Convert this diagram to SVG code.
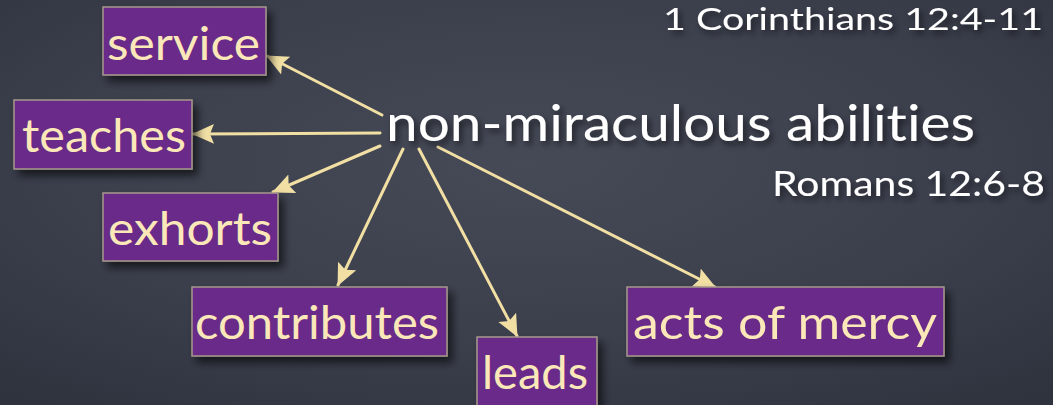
<svg xmlns="http://www.w3.org/2000/svg" width="1053" height="405" viewBox="0 0 1053 405">
<defs>
<radialGradient id="bg" cx="0.5" cy="0.4" r="0.75">
<stop offset="0" stop-color="#464a57"/>
<stop offset="0.6" stop-color="#3b3f4c"/>
<stop offset="1" stop-color="#2f333e"/>
</radialGradient>
<filter id="sh" x="-10%" y="-20%" width="130%" height="160%">
<feDropShadow dx="5" dy="6" stdDeviation="4" flood-color="#000" flood-opacity="0.6"/>
</filter>
<filter id="tsh" x="-5%" y="-20%" width="115%" height="160%">
<feDropShadow dx="3" dy="4" stdDeviation="3" flood-color="#000" flood-opacity="0.55"/>
</filter>
<marker id="ah" markerUnits="userSpaceOnUse" markerWidth="24" markerHeight="22" refX="21" refY="10" orient="auto">
<path d="M0,0 L22,10 L0,20 L4,10 Z" fill="#f1dfa4"/>
</marker>
<style>
.box{fill:#6a2a89;stroke:#a7998a;stroke-width:1.5;filter:url(#sh)}
.lbl{font-family:Lato,"Open Sans",sans-serif;font-size:46px;fill:#fbe8b9;font-variant-ligatures:none}
.ttl{font-family:Lato,"Open Sans",sans-serif;fill:#ffffff;filter:url(#tsh);font-variant-ligatures:none}
.con{stroke:#f1dfa4;stroke-width:3;fill:none;stroke-linecap:round;marker-end:url(#ah)}
</style>
</defs>
<rect width="1053" height="405" fill="url(#bg)"/>
<g id="connectors">
<line class="con" x1="382" y1="115" x2="267" y2="56"/>
<line class="con" x1="380" y1="133" x2="193" y2="134"/>
<line class="con" x1="380" y1="146" x2="273" y2="192"/>
<line class="con" x1="403" y1="149" x2="338" y2="285"/>
<line class="con" x1="419" y1="149" x2="517" y2="336"/>
<line class="con" x1="438" y1="147" x2="715" y2="287"/>
</g>
<g id="hub">
<text class="ttl" x="386" y="141" font-size="50" textLength="589" lengthAdjust="spacingAndGlyphs">non-miraculous abilities</text>
</g>
<g id="ref1">
<text class="ttl" x="663" y="30" font-size="31" textLength="380" lengthAdjust="spacingAndGlyphs">1 Corinthians 12:4-11</text>
</g>
<g id="ref2">
<text class="ttl" x="772" y="196" font-size="34" textLength="273" lengthAdjust="spacingAndGlyphs">Romans 12:6-8</text>
</g>
<g id="service">
<rect class="box" x="103" y="7" width="163" height="68"/>
<text class="lbl" x="107" y="60" textLength="153" lengthAdjust="spacingAndGlyphs">service</text>
</g>
<g id="teaches">
<rect class="box" x="14" y="100" width="178" height="69"/>
<text class="lbl" x="22" y="152" textLength="164" lengthAdjust="spacingAndGlyphs">teaches</text>
</g>
<g id="exhorts">
<rect class="box" x="103" y="193" width="175" height="68"/>
<text class="lbl" x="108" y="245" textLength="164" lengthAdjust="spacingAndGlyphs">exhorts</text>
</g>
<g id="contributes">
<rect class="box" x="192" y="287" width="255" height="69"/>
<text class="lbl" x="195" y="339" textLength="244" lengthAdjust="spacingAndGlyphs">contributes</text>
</g>
<g id="leads">
<rect class="box" x="477" y="337" width="120" height="80"/>
<text class="lbl" x="482" y="389" textLength="106" lengthAdjust="spacingAndGlyphs">leads</text>
</g>
<g id="acts">
<rect class="box" x="627" y="287" width="317" height="69"/>
<text class="lbl" x="633" y="339" textLength="304" lengthAdjust="spacingAndGlyphs">acts of mercy</text>
</g>
</svg>
